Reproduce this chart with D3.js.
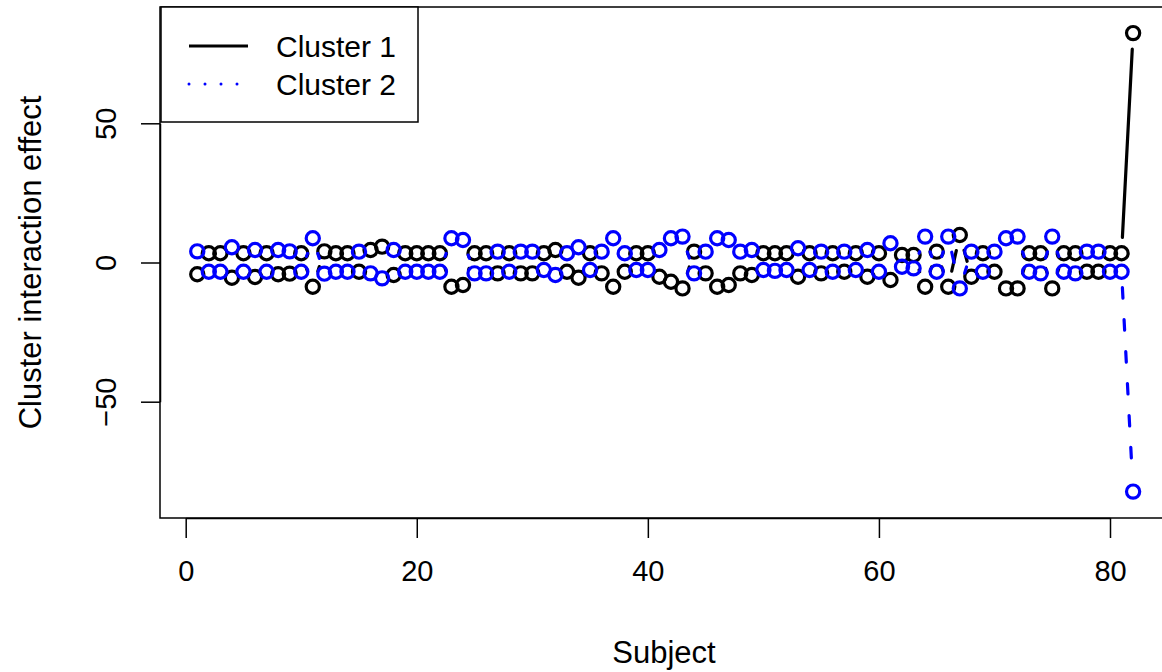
<!DOCTYPE html>
<html>
<head>
<meta charset="utf-8">
<script src="https://cdn.jsdelivr.net/npm/d3@7"></script>
<style>
  body { margin: 0; background: #fff; }
  svg text { font-family: "Liberation Sans", Arial, sans-serif; fill: #000; }
</style>
</head>
<body>
<svg id="chart" width="1162" height="672"></svg>
<script>
// subject effects (subject = index + 1)
var cluster1 = [
    -4.2, 3.3, 3.3, -5.5, 3.3, -5.2, 3.3, -4.2, -4.0, 3.3,
    -8.7, 4.0, 3.3, 3.3, -3.3, 4.5, 5.7, -4.5, 3.3, 3.3,
    3.3, 3.3, -8.7, -8.1, 3.3, 3.3, -3.9, 3.3, -3.9, -3.9,
    3.3, 4.5, -3.3, -5.5, 3.3, -3.9, -8.7, -3.3, 3.3, 3.3,
    -5.1, -6.9, -9.3, 3.9, -3.9, -8.7, -8.1, -3.9, -4.5, 3.3,
    3.3, 3.3, -5.1, 3.3, -3.9, 3.3, -3.3, 3.3, -5.1, 3.3,
    -6.3, 2.7, 2.7, -8.7, 3.9, -8.7, 9.9, -5.1, 3.3, -3.3,
    -9.3, -9.3, 3.3, 3.3, -9.3, 3.3, 3.3, -3.3, -3.3, 3.3,
    3.3, 82.4
];
var cluster2 = [
    4.0, -3.3, -3.3, 5.5, -3.3, 4.5, -3.3, 4.5, 4.0, -3.3,
    8.7, -4.0, -3.3, -3.3, 3.9, -3.9, -5.7, 4.5, -3.3, -3.3,
    -3.3, -3.3, 8.7, 8.1, -3.9, -3.9, 3.9, -3.3, 3.9, 3.9,
    -2.7, -4.5, 3.3, 5.5, -2.7, 3.9, 8.7, 3.3, -2.7, -2.7,
    4.5, 8.7, 9.3, -3.9, 3.9, 8.7, 8.1, 3.9, 4.5, -2.7,
    -3.0, -2.7, 5.1, -2.7, 3.9, -3.3, 3.9, -2.7, 4.5, -3.3,
    6.9, -1.5, -2.1, 9.3, -3.3, 9.3, -9.3, 3.9, -3.3, 3.9,
    8.7, 9.3, -3.3, -3.9, 9.3, -3.3, -3.9, 3.9, 3.9, -3.3,
    -3.3, -82.3
];
var seriesNames = ["Cluster 1", "Cluster 2"];
var xTicks = [0, 20, 40, 60, 80];
var yTicks = [-50, 0, 50];

var svg = d3.select("#chart");

var x = d3.scaleLinear().domain([0, 80]).range([185.7, 1110]);
var y = d3.scaleLinear().domain([-50, 50]).range([401.7, 123.3]);

var plotLeft = 160, plotTop = 7, plotBottom = 518, plotRight = 1175;

// R type "b": segments cut back by a gap at both ends
function gappedSegments(values, gap) {
    var segs = [];
    for (var i = 0; i < values.length - 1; i++) {
        var x1 = x(i + 1), y1 = y(values[i]);
        var x2 = x(i + 2), y2 = y(values[i + 1]);
        var dx = x2 - x1, dy = y2 - y1;
        var len = Math.sqrt(dx * dx + dy * dy);
        if (len > 2 * gap) {
            var ux = dx / len, uy = dy / len;
            segs.push({x1: x1 + ux * gap, y1: y1 + uy * gap, x2: x2 - ux * gap, y2: y2 - uy * gap});
        }
    }
    return segs;
}

function drawSeries(values, color, dash) {
    var g = svg.append("g");
    g.selectAll("line")
        .data(gappedSegments(values, 16))
        .enter().append("line")
        .attr("x1", function (d) { return d.x1; })
        .attr("y1", function (d) { return d.y1; })
        .attr("x2", function (d) { return d.x2; })
        .attr("y2", function (d) { return d.y2; })
        .attr("stroke", color)
        .attr("stroke-width", 3.2)
        .attr("stroke-linecap", "round")
        .attr("stroke-dasharray", dash);
    g.selectAll("circle")
        .data(values)
        .enter().append("circle")
        .attr("cx", function (d, i) { return x(i + 1); })
        .attr("cy", function (d) { return y(d); })
        .attr("r", 6.6)
        .attr("fill", "none")
        .attr("stroke", color)
        .attr("stroke-width", 3.2);
}

drawSeries(cluster1, "#000", null);
drawSeries(cluster2, "#0000ff", "10.5 21.5");

// box
svg.append("rect")
    .attr("x", plotLeft)
    .attr("y", plotTop)
    .attr("width", plotRight - plotLeft)
    .attr("height", plotBottom - plotTop)
    .attr("fill", "none")
    .attr("stroke", "#000")
    .attr("stroke-width", 1.5);

// x axis
var xAxis = svg.append("g")
    .attr("transform", "translate(0," + plotBottom + ")")
    .call(d3.axisBottom(x).tickValues(xTicks).tickSize(20).tickSizeOuter(0).tickPadding(22));
xAxis.select(".domain").attr("stroke-width", 1.5);
xAxis.selectAll(".tick line").attr("stroke-width", 1.5);
xAxis.selectAll("text")
    .attr("font-size", 29)
    .attr("font-family", "Liberation Sans, Arial, sans-serif")
    .attr("fill", "#000")
    .attr("dy", "0.71em");

// y axis
var yAxis = svg.append("g")
    .attr("transform", "translate(" + plotLeft + ",0)")
    .call(d3.axisLeft(y).tickValues(yTicks).tickSize(19).tickSizeOuter(0)
        .tickFormat(function (d) { return String(d).replace("-", "\u2212"); }));
yAxis.select(".domain").attr("stroke-width", 1.5);
yAxis.selectAll(".tick line").attr("stroke-width", 1.5);
yAxis.selectAll("text")
    .attr("font-size", 29)
    .attr("font-family", "Liberation Sans, Arial, sans-serif")
    .attr("fill", "#000")
    .attr("x", null)
    .attr("dy", null)
    .attr("text-anchor", "middle")
    .attr("transform", "translate(-44.5,0) rotate(-90)");

// axis titles
svg.append("text")
    .attr("x", 664)
    .attr("y", 663)
    .attr("text-anchor", "middle")
    .attr("font-size", 31)
    .text("Subject");

svg.append("text")
    .attr("transform", "translate(41,262.5) rotate(-90)")
    .attr("text-anchor", "middle")
    .attr("font-size", 31)
    .text("Cluster interaction effect");

// legend
var legend = svg.append("g");
legend.append("rect")
    .attr("x", 161).attr("y", 7)
    .attr("width", 257).attr("height", 115)
    .attr("fill", "#fff")
    .attr("stroke", "#000")
    .attr("stroke-width", 1.5);
var legendRows = [
    {name: seriesNames[0], color: "#000", width: 3.2, dash: null, cap: "butt"},
    {name: seriesNames[1], color: "#0000ff", width: 3, dash: "0 16", cap: "round"}
];
legendRows.forEach(function (r, i) {
    var ly = 46 + i * 38;
    legend.append("line")
        .attr("x1", 189).attr("x2", 248)
        .attr("y1", ly).attr("y2", ly)
        .attr("stroke", r.color)
        .attr("stroke-width", r.width)
        .attr("stroke-linecap", r.cap)
        .attr("stroke-dasharray", r.dash);
    legend.append("text")
        .attr("x", 276)
        .attr("y", ly + 10.5)
        .attr("font-size", 30)
        .text(r.name);
});
</script>
</body>
</html>
